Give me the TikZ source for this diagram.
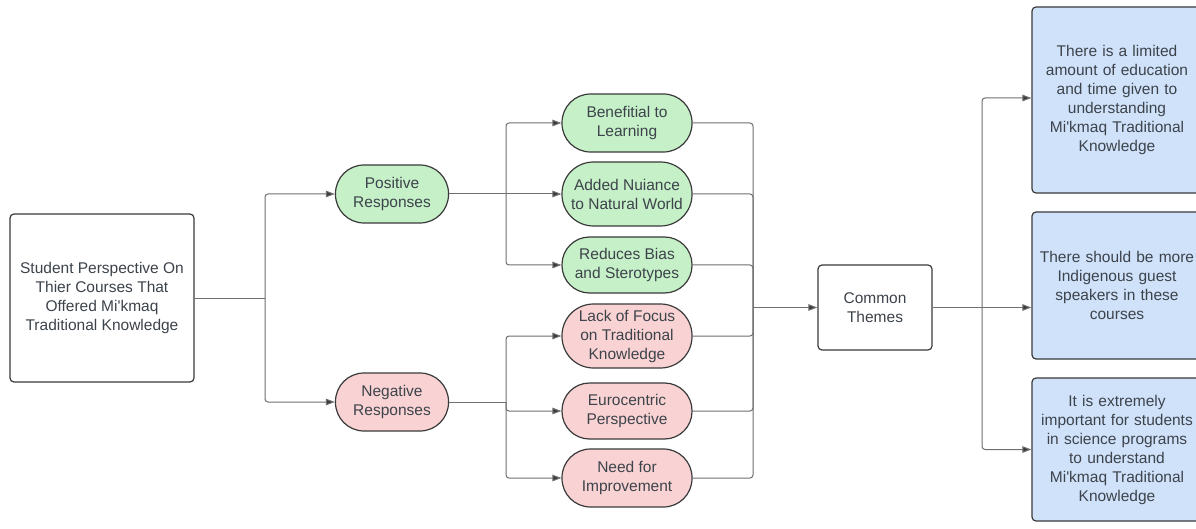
\documentclass[tikz,border=0pt]{standalone}
\usepackage{fontspec}
\setmainfont{Liberation Sans}[Ligatures=TeXOff]
\usetikzlibrary{arrows.meta}
\definecolor{txt}{HTML}{3D434B}
\definecolor{edge}{HTML}{3A3A3A}
\definecolor{wire}{HTML}{707070}
\definecolor{gfill}{HTML}{C6F0C8}
\definecolor{pfill}{HTML}{F9D3D3}
\definecolor{bfill}{HTML}{CFE2FA}
\tikzset{
  base/.style={draw=edge, line width=1.2pt, text=txt, align=center, inner sep=0pt,
    font=\fontsize{15.5}{19}\selectfont},
  sq/.style={base, rectangle, rounded corners=4pt, fill=white},
  pill/.style={base, rectangle, fill=#1},
  bluebox/.style={base, rectangle, rounded corners=4pt, fill=bfill},
  conn/.style={draw=wire, line width=1pt, rounded corners=3pt},
  arr/.style={conn, -{Triangle[length=9pt,width=6.5pt,fill=edge]}},
}
\begin{document}
\begin{tikzpicture}[x=1pt,y=-1pt]
\useasboundingbox (0,0) rectangle (1196,529);
\fill[white] (0,0) rectangle (1196,529);

% nodes
\node[sq, minimum width=184pt, minimum height=168pt] (L) at (102,298)
  {Student Perspective On\\Thier Courses That\\Offered Mi'kmaq\\Traditional Knowledge};

\node[pill=gfill, minimum width=113pt, minimum height=58pt, rounded corners=28.5pt] (P) at (392,194) {Positive\\Responses};
\node[pill=pfill, minimum width=113pt, minimum height=58pt, rounded corners=28.5pt] (N) at (392,402) {Negative\\Responses};

\node[pill=gfill, minimum width=130pt, minimum height=58pt, rounded corners=28.5pt] (B1) at (627,123) {Benefitial to\\Learning};
\node[pill=gfill, minimum width=130pt, minimum height=64pt, rounded corners=31.5pt] (B2) at (627,194) {Added Nuiance\\to Natural World};
\node[pill=gfill, minimum width=130pt, minimum height=56pt, rounded corners=27.5pt] (B3) at (627,265) {Reduces Bias\\and Sterotypes};
\node[pill=pfill, minimum width=130pt, minimum height=64pt, rounded corners=31.5pt] (B4) at (627,336) {Lack of Focus\\on Traditional\\Knowledge};
\node[pill=pfill, minimum width=130pt, minimum height=56pt, rounded corners=27.5pt] (B5) at (627,411) {Eurocentric\\Perspective};
\node[pill=pfill, minimum width=130pt, minimum height=58pt, rounded corners=28.5pt] (B6) at (627,478) {Need for\\Improvement};

\node[sq, minimum width=114pt, minimum height=85pt] (C) at (875,307.5) {Common\\Themes};

\node[bluebox, minimum width=170pt, minimum height=186pt, text width=160pt] (T1) at (1117,100)
  {There is a limited\\amount of education\\and time given to\\understanding\\Mi'kmaq Traditional\\Knowledge};
\node[bluebox, minimum width=170pt, minimum height=147pt, text width=160pt] (T2) at (1117,285.5)
  {There should be more\\Indigenous guest\\speakers in these\\courses};
\node[bluebox, minimum width=170pt, minimum height=143pt, text width=160pt] (T3) at (1117,449.5)
  {It is extremely\\important for students\\in science programs\\to understand\\Mi'kmaq Traditional\\Knowledge};

% split / merge points
\coordinate (s1) at (265,298);
\coordinate (s2) at (506,194);
\coordinate (s3) at (506,402);
\coordinate (m) at (753,307.5);
\coordinate (s4) at (982,307.5);

% connectors
\draw[conn] (L.east) -- (s1);
\draw[arr] (s1) |- (P.west);
\draw[arr] (s1) |- (N.west);

\draw[conn] (P.east) -- (s2);
\draw[arr] (s2) |- (B1.west);
\draw[arr] (s2) -- (B2.west);
\draw[arr] (s2) |- (B3.west);

\draw[conn] (N.east) -- (s3);
\draw[arr] (s3) |- (B4.west);
\draw[arr] (s3) |- (B5.west);
\draw[arr] (s3) |- (B6.west);

\foreach \b in {B1,B2,B3,B4,B5,B6}
  \draw[conn] (\b.east) -| (m);
\draw[arr] (m) -- (C.west);

\draw[conn] (C.east) -- (s4);
\draw[arr] (s4) |- ([yshift=2pt]T1.west);
\draw[arr] (s4) -- (s4 -| T2.west);
\draw[arr] (s4) |- (T3.west);
\end{tikzpicture}
\end{document}
